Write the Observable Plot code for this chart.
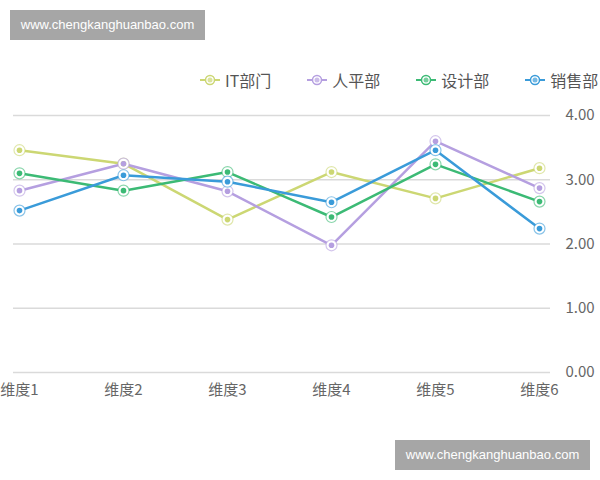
<!DOCTYPE html>
<html>
<head>
<meta charset="utf-8">
<script src="https://cdn.jsdelivr.net/npm/d3@7"></script>
<script src="https://cdn.jsdelivr.net/npm/@observablehq/plot@0.6"></script>
<style>
  html, body { margin: 0; padding: 0; background: #fff; }
  #wrap { position: relative; width: 600px; height: 480px; overflow: hidden; font-family: "Noto Sans CJK SC", "Noto Sans", sans-serif; }
  #legend { position: absolute; left: 200px; top: 68px; display: flex; gap: 36px; white-space: nowrap; font-size: 16px; color: #555; }
  .item { display: flex; align-items: center; gap: 5px; }
  .item svg { display: block; }
  .mark { position: absolute; width: 195px; height: 30px; background: #a6a6a6; color: #fff; font-family: "Liberation Sans", Arial, sans-serif; font-size: 13px; line-height: 30px; text-align: center; }
  #chart { position: absolute; left: 0; top: 100px; }
</style>
</head>
<body>
<div id="wrap">
  <div id="legend"></div>
  <div id="chart"></div>
  <div class="mark" style="left:10px;top:10px;">www.chengkanghuanbao.com</div>
  <div class="mark" style="left:395px;top:440px;">www.chengkanghuanbao.com</div>
</div>
<script>
// Survey dimensions and department scores
const dims = ["维度1", "维度2", "维度3", "维度4", "维度5", "维度6"];
const depts = ["IT部门", "人平部", "设计部", "销售部"];
const itValues = [3.46, 3.25, 2.38, 3.12, 2.71, 3.18];
const hrValues = [2.83, 3.25, 2.82, 1.98, 3.60, 2.87];
const designValues = [3.10, 2.83, 3.12, 2.42, 3.24, 2.66];
const salesValues = [2.52, 3.07, 2.97, 2.65, 3.46, 2.24];
const yTicks = [0, 1, 2, 3, 4];
const colors = ["#ccd773", "#b59fe0", "#3cba75", "#3a9bd9"];

const series = [itValues, hrValues, designValues, salesValues];
const rows = series.flatMap((vals, i) => vals.map((v, j) => ({dept: depts[i], dim: dims[j], value: v})));

// Legend: short line with a ring marker, then the department name
const legend = document.getElementById("legend");
depts.forEach((d, i) => {
  const item = document.createElement("div");
  item.className = "item";
  item.innerHTML = `<svg width="20" height="12"><line x1="0" y1="6" x2="20" y2="6" stroke="${colors[i]}" stroke-width="2"/><circle cx="10" cy="6" r="4.5" fill="#fff" stroke="${colors[i]}" stroke-width="1.5"/><circle cx="10" cy="6" r="2.5" fill="${colors[i]}" fill-opacity="0.7"/></svg><span>${d}</span>`;
  legend.appendChild(item);
});

const chart = Plot.plot({
  width: 600,
  height: 380,
  marginTop: 15,
  marginBottom: 108,
  marginLeft: 13,
  marginRight: 50,
  style: {fontFamily: "'Noto Sans CJK SC', sans-serif", fontSize: "15px", color: "#666", overflow: "visible"},
  x: {type: "point", domain: dims, padding: 0, insetLeft: 5, insetRight: 10},
  y: {domain: [0, 4]},
  color: {domain: depts, range: colors},
  marks: [
    Plot.ruleY(yTicks, {stroke: "#dadada", strokeWidth: 1.5}),
    Plot.axisY(yTicks, {anchor: "right", tickSize: 0, tickPadding: 15, tickFormat: d3.format(".2f"), label: null, fontSize: 15, fill: "#666"}),
    Plot.axisX({tickSize: 0, tickPadding: 12, label: null, fontSize: 15, fill: "#666"}),
    Plot.line(rows, {x: "dim", y: "value", stroke: "dept", z: "dept", strokeWidth: 2.5}),
    Plot.dot(rows, {x: "dim", y: "value", r: 5.5, fill: "#fff", stroke: "dept", strokeWidth: 1.2, strokeOpacity: 0.6}),
    Plot.dot(rows, {x: "dim", y: "value", r: 2.8, fill: "dept", stroke: "none"})
  ]
});
document.getElementById("chart").appendChild(chart);
</script>
</body>
</html>
